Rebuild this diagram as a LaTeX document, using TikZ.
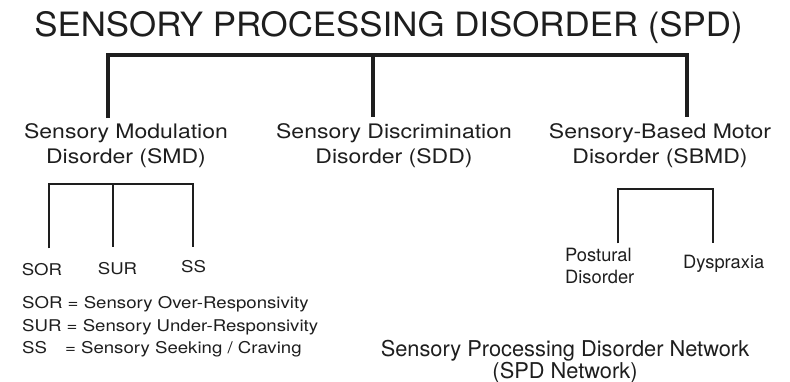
\documentclass[tikz,border=0pt]{standalone}
\usepackage{fontspec}
\setmainfont{TeX Gyre Heros}
\newfontfamily\titlefont[FakeStretch=1.04]{TeX Gyre Heros}
\newfontfamily\widefont[FakeStretch=1.15]{TeX Gyre Heros}
\definecolor{ink}{HTML}{1E1E1E}
\begin{document}
\begin{tikzpicture}[x=1pt,y=-1pt,
  every node/.style={inner sep=0pt,text=ink},
  bar/.style={line width=3.2pt,draw=ink},
  sub/.style={line width=2pt,draw=ink},
  group/.style={font=\widefont\fontsize{20}{25.6}\selectfont,align=center,anchor=north},
  leaf/.style={font=\widefont\fontsize{16.2}{20}\selectfont,anchor=base},
  motor/.style={font=\fontsize{18.3}{21.6}\selectfont}]
\useasboundingbox (0,0) rectangle (790,382);
\node[font=\titlefont\fontsize{33.5}{40}\selectfont,anchor=base] (spd) at (388.5,37) {SENSORY PROCESSING DISORDER (SPD)};
% the three groups
\node[group] (smd) at (126,123.1) {Sensory Modulation\\Disorder (SMD)};
\node[group] (sdd) at (394,123.1) {Sensory Discrimination\\Disorder (SDD)};
\node[group] (sbmd) at (660,123.1) {Sensory-Based Motor\\Disorder (SBMD)};
% subtypes
\node[leaf] (sor) at (42,275.7) {SOR};
\node[leaf] (sur) at (117.5,274.7) {SUR};
\node[leaf] (ss) at (193.5,272.7) {SS};
\node[motor,anchor=north west,align=left] (postural) at (565,248.3) {Postural\\Disorder};
\node[motor,anchor=base west] (dyspraxia) at (683,268.3) {Dyspraxia};
% legend
\node[leaf,anchor=base west] (legsor) at (22,308.5) {SOR = Sensory Over-Responsivity};
\node[leaf,anchor=base west] (legsur) at (22,331.3) {SUR = Sensory Under-Responsivity};
\node[leaf,anchor=base west] (legss) at (22,353.8) {SS\hspace{18pt}= Sensory Seeking / Craving};
\node[font=\fontsize{21.8}{17.8}\selectfont,align=center,anchor=north] (net) at (565,340) {Sensory Processing Disorder Network\\(SPD Network)};
% brackets
\coordinate (spdL) at (108,55);
\coordinate (spdM) at (373,55);
\coordinate (spdR) at (687,55);
\draw[bar,shorten <=5pt,shorten >=6pt] (spdL |- smd.north) -- (spdL) -- (spdR) -- (spdR |- sbmd.north);
\draw[bar,shorten >=6pt] (spdM) -- (spdM |- sdd.north);
\coordinate (smdL) at (49,184);
\coordinate (smdM) at (113,184);
\coordinate (smdR) at (193,184);
\draw[sub,shorten <=15pt,shorten >=13pt] (smdL |- sor.north) -- (smdL) -- (smdR) -- (smdR |- ss.north);
\draw[sub,shorten >=15pt] (smdM) -- (smdM |- sur.north);
\coordinate (motL) at (618,189);
\coordinate (motR) at (713,189);
\draw[sub,shorten <=5pt,shorten >=12pt] (motL |- postural.north) -- (motL) -- (motR) -- (motR |- dyspraxia.north);
\end{tikzpicture}
\end{document}
